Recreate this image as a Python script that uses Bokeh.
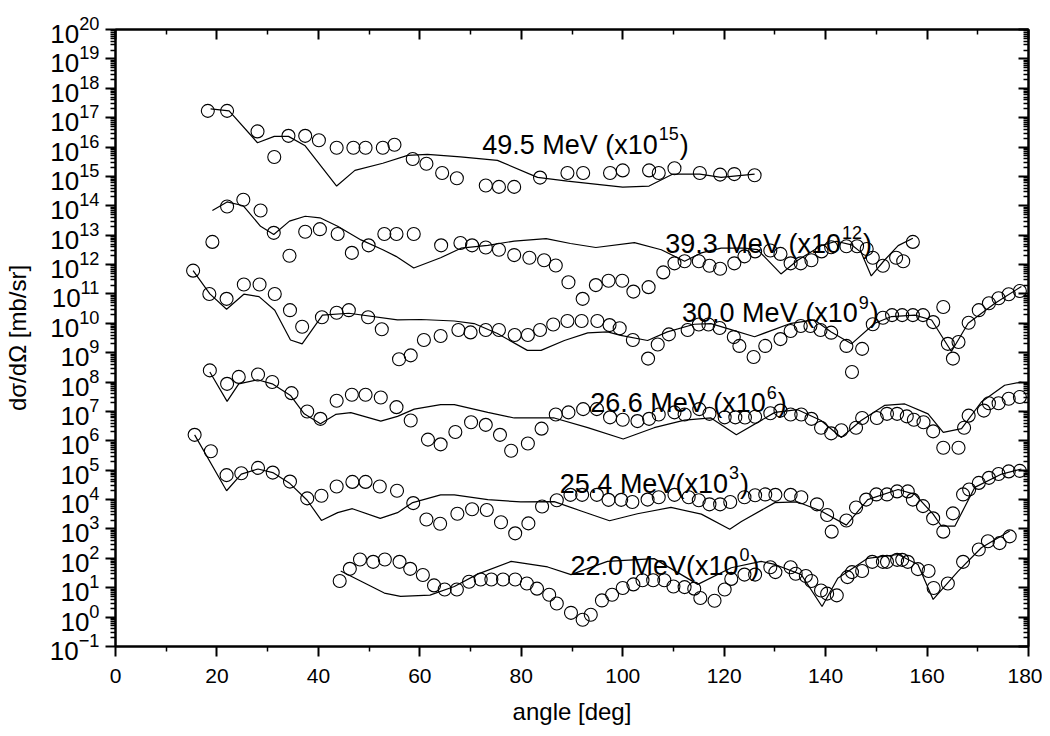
from bokeh.plotting import figure
from bokeh.models import (FixedTicker, LinearAxis, LogAxis, Label, CustomJSTickFormatter)
from bokeh.embed import file_html
from bokeh.resources import INLINE

# ---------------- data (angle in deg, dσ/dΩ in mb/sr, already scaled) ----------------
# 49.5 MeV (x10^15)
e495_ang = [18.2, 22.0, 28.0, 31.3, 34.1, 37.4, 40.1, 43.6, 46.9, 49.3, 52.7, 55.0, 58.6, 61.3,
            64.4, 67.3, 73.0, 75.6, 78.6, 83.7, 89.1, 92.2, 97.5, 100.0, 105.2, 107.1, 110.2,
            115.2, 119.2, 122.0, 126.0]
e495_exp = [1.7e17, 1.7e17, 3.4e16, 4.6e15, 2.4e16, 2.4e16, 1.7e16, 9.5e15, 9.5e15, 9.5e15,
            9.5e15, 1.2e16, 3.9e15, 2.7e15, 1.3e15, 8.7e14, 4.9e14, 4.4e14, 4.4e14, 9.1e14,
            1.3e15, 1.3e15, 1.3e15, 1.6e15, 1.6e15, 1.3e15, 1.9e15, 1.3e15, 1.15e15, 1.2e15,
            1.1e15]
e495_th_ang = [18.75, 22.4, 28.0, 31.3, 34.1, 37.4, 43.6, 47.2, 52.7, 57.6, 61.5, 68.0, 75.3,
               83.2, 89.1, 100.0, 105.2, 109.9, 115.2, 119.4, 126.0]
e495_th = [2.0e17, 1.7e17, 1.4e16, 2.3e16, 2.3e16, 1.1e16, 4.7e14, 1.6e15, 2.8e15, 5.2e15,
           5.6e15, 4.6e15, 3.5e15, 9.3e14, 6.9e14, 4.3e14, 4.7e14, 1.2e15, 1.2e15, 9.3e14,
           1.2e15]

# 39.3 MeV (x10^12)
e393_ang = [19.1, 22.0, 25.2, 28.6, 31.2, 34.3, 37.4, 40.3, 43.8, 46.6, 49.9, 53.0, 55.4, 58.8,
            64.2, 68.0, 70.3, 73.0, 75.6, 78.6, 81.6, 84.5, 86.8, 89.3, 92.1, 94.7, 97.2, 99.9,
            102.1, 105.1, 108.0, 110.2, 112.2, 115.0, 117.1, 119.2, 122.0, 124.0, 126.1, 129.1,
            131.1, 133.1, 135.1, 137.2, 139.2, 141.1, 144.1, 146.2, 148.1, 149.3, 151.3, 153.9,
            155.3, 157.2]
e393_exp = [5.9e12, 9.5e13, 1.6e14, 6.9e13, 1.2e13, 2.0e12, 1.3e13, 1.6e13, 1.1e13, 2.5e12,
            4.5e12, 1.1e13, 1.1e13, 1.1e13, 4.5e12, 5.4e12, 4.5e12, 3.8e12, 3.2e12, 2.1e12,
            1.7e12, 1.4e12, 9.3e11, 2.5e11, 6.8e10, 2.0e11, 2.8e11, 2.8e11, 1.2e11, 1.7e11,
            5.4e11, 1.1e12, 1.3e12, 1.3e12, 9.1e11, 7.2e11, 1.1e12, 1.9e12, 2.8e12, 3.0e12,
            2.3e12, 1.1e12, 1.1e12, 1.4e12, 2.8e12, 3.9e12, 4.2e12, 4.2e12, 3.4e12, 1.7e12,
            9.1e11, 1.7e12, 1.3e12, 5.9e12]
e393_th_ang = [19.1, 22.0, 25.2, 28.6, 31.2, 34.3, 37.4, 40.3, 43.8, 48.4, 52.7, 55.3, 58.8,
               64.1, 68.1, 73.4, 78.6, 84.9, 89.7, 94.7, 102.3, 107.6, 112.2, 115.5, 119.4,
               124.0, 126.6, 131.2, 134.5, 139.1, 142.1, 145.1, 147.0, 149.0, 151.6, 154.3,
               157.2]
e393_th = [6.9e13, 1.35e14, 1.0e14, 2.0e13, 1.05e13, 3.0e13, 4.4e13, 3.9e13, 2.0e13, 6.9e12,
           3.2e12, 1.9e12, 7.6e11, 1.7e12, 3.6e12, 4.5e12, 6.3e12, 7.6e12, 5.2e12, 3.8e12,
           5.6e12, 3.2e12, 1.3e12, 2.5e12, 3.6e12, 3.6e12, 3.2e12, 4.8e11, 1.4e12, 4.4e12,
           6.2e12, 4.7e12, 2.6e12, 4.1e11, 1.4e12, 4.4e12, 7.9e12]

# 30.0 MeV (x10^9)
e300_ang = [15.3, 18.5, 21.9, 25.3, 28.4, 31.4, 34.4, 36.8, 40.7, 43.6, 46.0, 49.8, 52.5, 55.9,
            58.2, 60.8, 64.1, 67.6, 70.0, 73.0, 75.6, 78.7, 81.3, 83.7, 86.3, 89.1, 91.9, 95.0,
            97.4, 99.4, 102.0, 105.0, 106.9, 109.1, 112.8, 115.0, 116.9, 119.1, 121.9, 123.0,
            125.8, 128.1, 131.1, 133.1, 135.1, 137.0, 139.0, 141.1, 144.1, 145.2, 147.2, 149.3,
            151.3, 153.1, 155.1, 157.2, 159.2, 161.2, 163.2, 164.1, 165.1, 166.2, 168.2, 170.2,
            172.2, 174.1, 176.1, 178.3]
e300_exp = [6.2e11, 1.0e11, 6.8e10, 2.1e11, 2.1e11, 1.0e11, 2.8e10, 7.6e9, 1.6e10, 2.3e10,
            2.8e10, 1.6e10, 6.3e9, 6.0e8, 8.1e8, 2.7e9, 3.7e9, 5.9e9, 4.9e9, 5.9e9, 5.9e9,
            4.0e9, 4.0e9, 5.9e9, 9.1e9, 1.2e10, 1.2e10, 1.2e10, 8.7e9, 6.8e9, 2.7e9, 6.3e8,
            1.9e9, 4.2e9, 5.9e9, 9.1e9, 9.1e9, 6.9e9, 3.4e9, 1.7e9, 7.1e8, 1.7e9, 2.9e9, 5.5e9,
            8.1e9, 8.1e9, 5.9e9, 4.8e9, 1.7e9, 2.2e8, 1.35e9, 9.3e9, 1.55e10, 1.9e10, 1.9e10,
            1.9e10, 1.9e10, 1.1e10, 3.6e10, 2.0e9, 6.3e8, 2.3e9, 1.05e10, 2.8e10, 4.8e10,
            7.1e10, 9.8e10, 1.26e11]
e300_th_ang = [15.3, 18.6, 21.9, 25.3, 28.3, 31.4, 34.5, 36.8, 40.8, 46.0, 55.6, 60.2, 66.8,
               70.7, 75.3, 81.2, 83.9, 88.5, 93.1, 97.0, 99.6, 104.9, 108.8, 114.1, 117.4,
               120.7, 126.0, 133.2, 137.8, 141.1, 145.1, 149.7, 153.0, 157.6, 160.9, 164.8,
               168.1, 173.4, 178.6]
e300_th = [6.2e11, 1.0e11, 3.0e10, 9.8e10, 8.1e10, 2.8e10, 2.7e9, 2.0e9, 1.9e10, 2.2e10,
           1.3e10, 1.35e10, 1.2e10, 9.8e9, 4.5e9, 1.2e9, 1.2e9, 2.6e9, 4.7e9, 5.1e9, 3.9e9,
           2.6e9, 5.1e9, 9.3e9, 9.8e9, 6.6e9, 3.5e9, 1.0e10, 1.3e10, 5.1e9, 2.0e9, 1.0e10,
           1.7e10, 1.9e10, 1.3e10, 1.1e9, 1.0e10, 4.8e10, 1.8e11]

# 26.6 MeV (x10^6)
e266_ang = [18.6, 22.0, 24.3, 28.1, 30.9, 34.7, 37.8, 40.4, 43.6, 46.6, 49.3, 52.3, 55.4, 58.2,
            61.6, 64.1, 67.0, 70.1, 73.0, 75.8, 78.0, 81.3, 84.0, 86.8, 89.3, 92.2, 94.9, 97.5,
            100.0, 102.9, 105.2, 107.1, 110.2, 112.2, 115.1, 117.1, 120.1, 122.2, 124.1, 126.1,
            129.1, 131.1, 133.1, 135.2, 137.2, 139.1, 141.1, 143.1, 146.0, 147.2, 150.1, 152.1,
            154.1, 156.0, 157.4, 159.3, 161.2, 163.2, 166.2, 167.3, 168.2, 171.2, 172.2, 174.1,
            176.1, 178.3]
e266_exp = [2.5e8, 8.7e7, 1.5e8, 1.8e8, 1.0e8, 4.2e7, 1.0e7, 5.6e6, 2.3e7, 3.7e7, 3.7e7, 3.0e7,
            1.4e7, 4.9e6, 1.1e6, 7.6e5, 2.0e6, 4.3e6, 3.5e6, 1.6e6, 4.6e5, 8.1e5, 2.6e6, 7.9e6,
            9.3e6, 1.2e7, 1.2e7, 6.3e6, 5.2e6, 4.7e6, 5.6e6, 7.9e6, 9.3e6, 7.9e6, 1.2e7, 8.3e6,
            6.3e6, 6.3e6, 6.2e6, 6.6e6, 8.7e6, 1.07e7, 7.9e6, 7.9e6, 5.6e6, 2.8e6, 1.8e6, 2.3e6,
            2.8e6, 6.0e6, 6.0e6, 8.3e6, 8.3e6, 6.8e6, 5.2e6, 4.3e6, 2.1e6, 5.8e5, 5.8e5, 2.8e6,
            7.2e6, 1.07e7, 1.9e7, 1.9e7, 2.7e7, 3.1e7]
e266_th_ang = [18.6, 22.0, 24.3, 28.0, 30.9, 34.5, 37.2, 40.4, 43.4, 46.4, 52.3, 55.6, 58.9,
               64.1, 66.8, 73.4, 78.6, 86.5, 93.1, 100.1, 106.2, 112.2, 117.4, 122.4, 130.0,
               134.5, 139.1, 143.1, 147.0, 151.6, 155.6, 160.2, 163.2, 166.8, 170.7, 175.3,
               178.6]
e266_th = [2.2e8, 2.2e7, 8.7e7, 1.2e8, 8.7e7, 3.5e7, 8.3e6, 3.8e6, 7.9e6, 9.1e6, 4.7e6, 6.8e6,
           1.2e7, 1.7e7, 1.7e7, 9.3e6, 6.0e6, 6.0e6, 2.8e6, 1.15e6, 2.8e6, 5.1e6, 6.0e6, 1.6e6,
           9.3e6, 1.15e7, 4.9e6, 1.3e6, 4.9e6, 1.6e7, 1.8e7, 8.3e6, 1.95e6, 2.6e6, 2.1e7,
           7.8e7, 1.0e8]

# 25.4 MeV (x10^3)
e254_ang = [15.6, 18.8, 21.9, 24.8, 28.1, 31.0, 34.4, 37.8, 40.6, 43.6, 46.7, 49.3, 52.1, 55.5,
            58.7, 61.3, 64.0, 67.4, 70.3, 73.2, 76.0, 78.8, 81.4, 84.1, 87.0, 89.7, 92.0, 94.9,
            97.2, 99.7, 101.9, 104.9, 107.1, 110.2, 113.0, 115.0, 117.1, 119.2, 121.2, 124.0,
            126.1, 128.1, 130.1, 133.1, 135.2, 138.3, 140.3, 141.2, 144.1, 146.0, 148.0, 150.0,
            152.1, 154.1, 156.2, 157.2, 159.2, 161.2, 163.2, 165.1, 167.1, 168.3, 170.2, 172.2,
            174.1, 176.1, 178.3]
e254_exp = [1.6e6, 4.4e5, 6.8e4, 7.9e4, 1.2e5, 8.3e4, 4.1e4, 1.1e4, 1.35e4, 2.8e4, 4.0e4, 4.0e4,
            2.8e4, 2.0e4, 7.6e3, 2.1e3, 1.5e3, 3.3e3, 4.7e3, 4.4e3, 1.7e3, 7.1e2, 1.55e3, 5.8e3,
            9.5e3, 1.45e4, 1.45e4, 1.45e4, 9.8e3, 9.8e3, 8.3e3, 1.0e4, 1.2e4, 1.45e4, 1.2e4,
            9.5e3, 6.9e3, 6.9e3, 8.3e3, 1.2e4, 1.4e4, 1.5e4, 1.45e4, 1.45e4, 1.2e4, 6.9e3, 3.0e3,
            8.1e2, 1.95e3, 5.4e3, 1.0e4, 1.5e4, 1.5e4, 1.9e4, 1.9e4, 1.0e4, 6.0e3, 2.3e3, 8.1e2,
            3.4e3, 1.5e4, 2.2e4, 3.7e4, 5.5e4, 7.4e4, 9.1e4, 9.5e4]
e254_th_ang = [15.6, 21.9, 24.8, 28.1, 31.0, 34.4, 37.8, 40.6, 43.8, 46.7, 52.2, 55.6, 58.6,
               64.1, 66.8, 73.4, 79.9, 86.5, 91.8, 97.4, 102.9, 109.5, 115.5, 121.1, 123.4,
               130.0, 134.5, 139.1, 144.1, 148.3, 154.3, 157.6, 161.2, 162.8, 165.5, 169.4,
               174.7, 178.6]
e254_th = [1.6e6, 2.0e4, 7.4e4, 1.1e5, 8.3e4, 3.5e4, 9.5e3, 1.95e3, 3.6e3, 4.9e3, 2.3e3, 3.6e3,
           7.9e3, 1.45e4, 1.45e4, 1.0e4, 8.3e3, 8.5e3, 4.1e3, 1.9e3, 3.3e3, 5.4e3, 3.2e3, 9.8e2,
           1.8e3, 7.9e3, 8.3e3, 4.1e3, 1.35e3, 1.0e4, 2.2e4, 1.5e4, 3.2e3, 1.26e3, 1.26e3,
           2.6e4, 7.4e4, 1.1e5]

# 22.0 MeV (x10^0)
e220_ang = [44.2, 46.2, 48.2, 50.8, 53.1, 56.0, 58.1, 60.6, 62.8, 64.9, 67.3, 69.7, 72.0, 74.1,
            76.4, 78.8, 81.1, 83.1, 85.5, 87.0, 89.8, 92.1, 93.7, 95.9, 97.9, 100.0, 102.1,
            103.9, 106.0, 108.2, 110.0, 112.2, 114.1, 115.3, 118.1, 120.1, 121.4, 124.0, 126.1,
            129.1, 130.1, 133.1, 134.1, 136.1, 137.2, 139.1, 140.3, 142.2, 144.3, 145.2, 147.2,
            149.2, 151.3, 152.1, 154.1, 155.1, 156.2, 158.2, 160.3, 161.3, 164.1, 167.1, 170.2,
            172.0, 174.3, 176.3]
e220_exp = [17, 44, 91, 76, 91, 76, 44, 27, 12, 8.7, 8.7, 16, 19, 19, 19, 19, 14, 9.3, 5.8, 2.9,
            1.4, 0.81, 1.2, 3.7, 5.8, 9.8, 13, 18, 18, 18, 11, 10.5, 9.3, 4.5, 3.6, 8.7, 20, 28,
            28, 50, 34, 50, 30, 25, 17, 8.1, 6.3, 5.5, 23, 34, 37, 76, 76, 76, 89, 89, 76, 43,
            37, 9.8, 14, 76, 200, 380, 330, 560]
e220_th_ang = [44.4, 53.0, 56.2, 62.0, 66.8, 71.4, 78.0, 85.2, 89.8, 97.0, 106.2, 114.8, 121.4,
               127.3, 130.0, 135.2, 139.3, 142.4, 148.3, 154.3, 158.2, 161.2, 166.1, 170.7,
               176.3]
e220_th = [37, 6.6, 5.1, 5.6, 11, 29, 79, 51, 28, 79, 98, 13, 48, 79, 62, 28, 2.3, 21, 100, 135,
           62, 4.0, 36, 230, 850]

# annotation texts
ann_main = ["49.5 MeV (x10", "39.3 MeV (x10", "30.0 MeV (x10", "26.6 MeV (x10",
            "25.4 MeV(x10", "22.0 MeV(x10"]
ann_sup = ["15", "12", "9", "6", "3", "0"]

# tick values
x_major = [0, 20, 40, 60, 80, 100, 120, 140, 160, 180]
x_minor = [10, 30, 50, 70, 90, 110, 130, 150, 170]
y_major = [10.0 ** k for k in range(-1, 21)]
y_minor = [m * 10.0 ** k for k in range(-1, 20) for m in range(2, 10)]

# ---------------- figure ----------------
FONT = "Liberation Sans"
p = figure(width=1042, height=728, x_range=(0, 180), y_range=(1e-1, 1e20),
           y_axis_type="log", output_backend="svg", toolbar_location=None,
           min_border_left=114, min_border_right=14, min_border_top=29, min_border_bottom=82)
p.xgrid.visible = False
p.ygrid.visible = False
p.outline_line_color = "black"
p.outline_line_width = 2
p.background_fill_color = "white"
p.border_fill_color = "white"

xt = FixedTicker(ticks=x_major, minor_ticks=x_minor)
yt = FixedTicker(ticks=y_major, minor_ticks=y_minor)

xa = p.xaxis[0]
xa.ticker = xt
xa.axis_label = "angle [deg]"
ya = p.yaxis[0]
ya.ticker = yt
ya.axis_label = "dσ/dΩ [mb/sr]"

for ax in (xa, ya):
    ax.axis_line_width = 2
    ax.major_tick_line_width = 2
    ax.minor_tick_line_width = 1.5
    ax.major_tick_out = 10
    ax.major_tick_in = 0
    ax.minor_tick_out = 5
    ax.minor_tick_in = 0
    ax.major_label_text_font = FONT
    ax.axis_label_text_font = FONT
    ax.axis_label_text_font_style = "normal"
    ax.axis_label_text_font_size = "24px"
    ax.axis_label_text_color = "black"
    ax.major_label_text_color = "black"

xa.major_label_text_font_size = "21px"
xa.major_label_standoff = 12
xa.axis_label_standoff = 12
ya.major_label_text_font_size = "26px"
ya.major_label_standoff = 6
ya.axis_label_standoff = 16

blank = CustomJSTickFormatter(code="return ''")
top = LinearAxis(ticker=xt, formatter=blank)
right = LogAxis(ticker=yt, formatter=blank)
for ax in (top, right):
    ax.axis_line_width = 2
    ax.major_tick_line_width = 2
    ax.minor_tick_line_width = 1.5
    ax.major_tick_in = 10
    ax.major_tick_out = 0
    ax.minor_tick_in = 5
    ax.minor_tick_out = 0
    ax.major_label_standoff = 0
    ax.major_label_text_font_size = "1px"
p.add_layout(top, "above")
p.add_layout(right, "right")

series = [
    (e495_ang, e495_exp, e495_th_ang, e495_th),
    (e393_ang, e393_exp, e393_th_ang, e393_th),
    (e300_ang, e300_exp, e300_th_ang, e300_th),
    (e266_ang, e266_exp, e266_th_ang, e266_th),
    (e254_ang, e254_exp, e254_th_ang, e254_th),
    (e220_ang, e220_exp, e220_th_ang, e220_th),
]
for ang, xs, tang, txs in series:
    p.line(tang, txs, line_color="black", line_width=1.2)
    p.scatter(ang, xs, marker="circle", size=13, fill_color=None,
              line_color="black", line_width=1.1)

# ---------------- annotations with superscripts ----------------
AW = {'0': 556, '1': 556, '2': 556, '3': 556, '4': 556, '5': 556, '6': 556, '7': 556,
      '8': 556, '9': 556, '.': 278, ' ': 278, 'M': 833, 'e': 556, 'V': 667, '(': 333,
      ')': 333, 'x': 500}


def tw(s, size):
    return sum(AW[c] for c in s) / 1000.0 * size


MAIN_SIZE = 27
SUP_SIZE = 18
ann_pos = [(72.3, 1.2e16), (108.4, 5.1e12), (111.7, 2.2e10), (93.6, 1.9e7),
           (87.6, 3.5e4), (89.7, 56)]
for (ax_, ay_), main, sup in zip(ann_pos, ann_main, ann_sup):
    w1 = tw(main, MAIN_SIZE)
    w2 = tw(sup, SUP_SIZE)
    p.add_layout(Label(x=ax_, y=ay_, text=main, text_font=FONT,
                       text_font_size=f"{MAIN_SIZE}px", text_baseline="alphabetic",
                       text_color="black"))
    p.add_layout(Label(x=ax_, y=ay_, x_offset=w1 + 1, y_offset=11, text=sup, text_font=FONT,
                       text_font_size=f"{SUP_SIZE}px", text_baseline="alphabetic",
                       text_color="black"))
    p.add_layout(Label(x=ax_, y=ay_, x_offset=w1 + w2 + 2, text=")", text_font=FONT,
                       text_font_size=f"{MAIN_SIZE}px", text_baseline="alphabetic",
                       text_color="black"))

open("out.html", "w").write(file_html(p, INLINE))
